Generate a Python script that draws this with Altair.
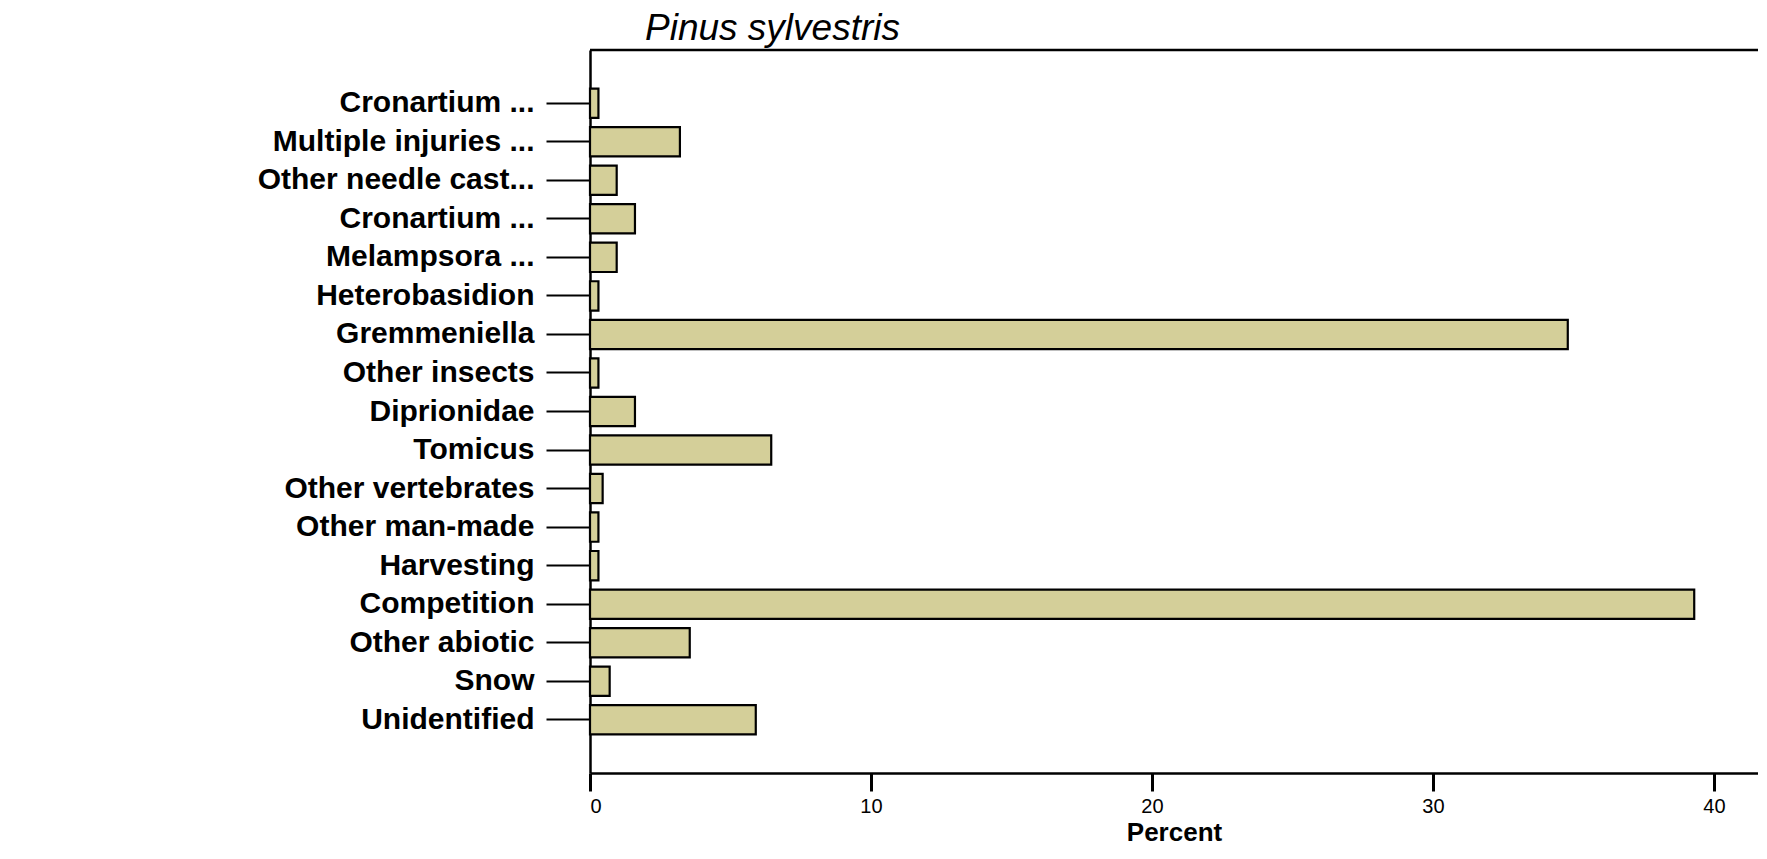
import json
import altair as alt
import pandas as pd

labels = [
    "Cronartium ...",
    "Multiple injuries ...",
    "Other needle cast...",
    "Cronartium ...",
    "Melampsora ...",
    "Heterobasidion",
    "Gremmeniella",
    "Other insects",
    "Diprionidae",
    "Tomicus",
    "Other vertebrates",
    "Other man-made",
    "Harvesting",
    "Competition",
    "Other abiotic",
    "Snow",
    "Unidentified",
]
percent = [0.3, 3.2, 0.95, 1.6, 0.95, 0.3, 34.8, 0.3, 1.6, 6.45, 0.45, 0.3, 0.3, 39.3, 3.55, 0.7, 5.9]
x_ticks = [0, 10, 20, 30, 40]

W = 1168
H = 723

df = pd.DataFrame({"idx": list(range(len(labels))), "label": labels, "percent": percent})
label_expr = json.dumps(labels) + "[datum.value]"

bars = alt.Chart(df).mark_bar(
    fill="#D4CF99", stroke="black", strokeWidth=2.2
).encode(
    x=alt.X(
        "percent:Q",
        scale=alt.Scale(domain=[0, 41.57], nice=False, zero=True),
        axis=alt.Axis(
            values=x_ticks,
            title="Percent",
            titleFont="Liberation Sans",
            titleFontSize=26,
            titleFontWeight="bold",
            titleColor="black",
            titlePadding=3,
            labelFont="Liberation Sans",
            labelFontSize=20,
            labelColor="black",
            labelPadding=5,
            tickSize=18,
            tickWidth=3,
            tickColor="black",
            domainColor="black",
            domainWidth=2.5,
            grid=False,
        ),
    ),
    y=alt.Y(
        "idx:O",
        scale=alt.Scale(paddingInner=0.24, paddingOuter=1),
        axis=alt.Axis(
            title=None,
            labelExpr=label_expr,
            labelFont="Liberation Sans",
            labelFontSize=30,
            labelFontWeight="bold",
            labelColor="black",
            labelLimit=700,
            labelPadding=12,
            tickSize=44,
            tickWidth=2,
            tickColor="black",
            domainColor="black",
            domainWidth=2.5,
        ),
    ),
)

top_line = alt.Chart(pd.DataFrame({"a": [0]})).mark_rule(
    color="black", strokeWidth=2.5
).encode(
    y=alt.value(0),
    x=alt.value(0),
    x2=alt.value(W),
)

chart = alt.layer(bars, top_line).properties(
    width=W,
    height=H,
    title=alt.TitleParams(
        text="Pinus sylvestris",
        font="Liberation Sans",
        fontSize=37,
        fontStyle="italic",
        fontWeight="normal",
        color="black",
        anchor="start",
        frame="group",
        dx=55,
        dy=36,
        offset=8,
        baseline="alphabetic",
    ),
    autosize=alt.AutoSizeParams(type="none"),
    padding={"left": 582, "top": 42, "right": 0, "bottom": 74},
).configure_view(stroke=None)

chart.save("out.html", embed_options={"renderer": "svg", "actions": False})
